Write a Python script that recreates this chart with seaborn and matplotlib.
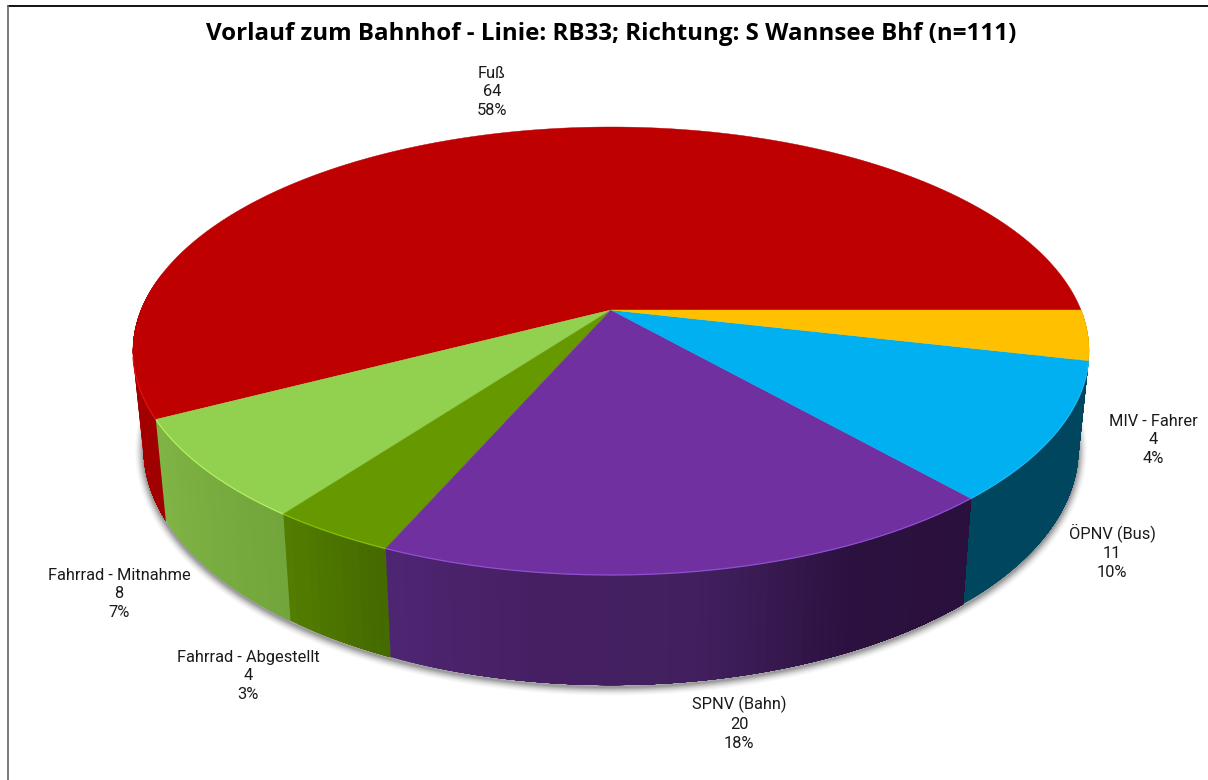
import numpy as np
import matplotlib
matplotlib.use("Agg")
import matplotlib.pyplot as plt
import seaborn as sns

title = "Vorlauf zum Bahnhof - Linie: RB33; Richtung: S Wannsee Bhf (n=111)"
categories = ["Fuß", "Fahrrad - Mitnahme", "Fahrrad - Abgestellt", "SPNV (Bahn)", "ÖPNV (Bus)", "MIV - Fahrer"]
counts = [64, 8, 4, 20, 11, 4]
percents = ["58%", "7%", "3%", "18%", "10%", "4%"]

top_colors = ["#BE0000", "#92D050", "#669900", "#7030A0", "#00B0F0", "#FFC000"]
rim_colors = ["#E81010", "#B4F060", "#88C000", "#9050D0", "#20B8F4", "#E8B000"]
wall_stops = [["#A80000", "#A00000"], ["#80B445", "#72A63C"], ["#527D00", "#456A00"],
              ["#4E2572", "#451F62", "#42205F", "#2C1140", "#2A103C"], ["#00465F", "#00465F"], ["#C09000", "#C09000"]]
label_pos = [(492, 92), (119, 594), (248, 676), (739, 723), (1112, 552), (1153, 440)]

sns.set_theme(style="white")
plt.rcParams["font.family"] = ["Roboto", "DejaVu Sans"]

fig = plt.figure(figsize=(12.08, 7.80), dpi=100, facecolor="white")
ax = fig.add_axes([0, 0, 1, 1])
ax.set_xlim(0, 1208)
ax.set_ylim(780, 0)
ax.axis("off")

CX, CY, RX, RY, K = 611.0, 310.0, 470.0, 216.5, 0.183


def top_xy(deg):
    t = np.radians(deg)
    u, v = np.cos(t), -np.sin(t)
    w = 1 - K * v
    return CX + RX * u / w, CY + RY * v / w


def bottom_xy(deg):
    x, y = top_xy(deg)
    return CX + 0.978 * (x - CX), CY + 95 + 1.057 * (y - CY)


edges = np.concatenate([[0], np.cumsum(counts)]) / np.sum(counts) * 360

# soft shadow round the base
ring = np.linspace(0, 360, 721)
bx, by = bottom_xy(ring)
for lw, a in zip(np.arange(12, 0, -1.5), [.03, .04, .05, .07, .09, .11, .14, .18]):
    ax.plot(bx, by + 2, color="#484848", lw=lw, alpha=a, zorder=1, solid_joinstyle="round")

# side walls, back to front; every strip runs on to the end of its slice so no seams show
order = [5, 0, 4, 1, 2, 3]
for i in order:
    a0, a1 = edges[i], edges[i + 1]
    if i == 0:
        a0 = 170.0
    n = max(int(a1 - a0), 2)
    shades = sns.blend_palette(wall_stops[i], n)
    ts = np.linspace(a0, a1, n + 1)
    for j in range(n):
        seg = np.linspace(ts[j], a1, max(3, (n - j) * 3))
        xt, yt = top_xy(seg)
        xb, yb = bottom_xy(seg)
        ax.fill(np.r_[xt, xb[::-1]], np.r_[yt, yb[::-1]], facecolor=shades[j],
                edgecolor="none", zorder=2)

# top face and lit rim
for i in [0, 1, 2, 3, 4, 5]:
    seg = np.linspace(edges[i], edges[i + 1], 200)
    xt, yt = top_xy(seg)
    ax.fill(np.r_[CX, xt], np.r_[CY, yt], facecolor=top_colors[i], edgecolor=top_colors[i],
            lw=0.3, zorder=3)
for i in [1, 2, 3, 4]:
    seg = np.linspace(edges[i], edges[i + 1], 200)
    xt, yt = top_xy(seg)
    ax.plot(xt, yt, color=rim_colors[i], lw=0.9, zorder=4, solid_capstyle="butt")
seg = np.linspace(192, edges[1], 60)
ax.plot(*top_xy(seg), color=rim_colors[0], lw=0.9, zorder=4, solid_capstyle="butt")

# frame
ax.plot([8, 1208], [6, 6], color="black", lw=1.3, zorder=5)
ax.plot([8, 8], [6, 780], color="#707070", lw=1.3, zorder=5)

ax.text(611.5, 34.5, title, ha="center", va="center", fontsize=17.4, fontweight="bold",
        family="Open Sans", color="black", zorder=6)
for (x, y), name, c, p in zip(label_pos, categories, counts, percents):
    ax.text(x, y, f"{name}\n{c}\n{p}", ha="center", va="center", multialignment="center",
            fontsize=11.8, linespacing=1.33, color="#1a1a1a", zorder=6)

fig.savefig("out.png", dpi=100, facecolor="white")
